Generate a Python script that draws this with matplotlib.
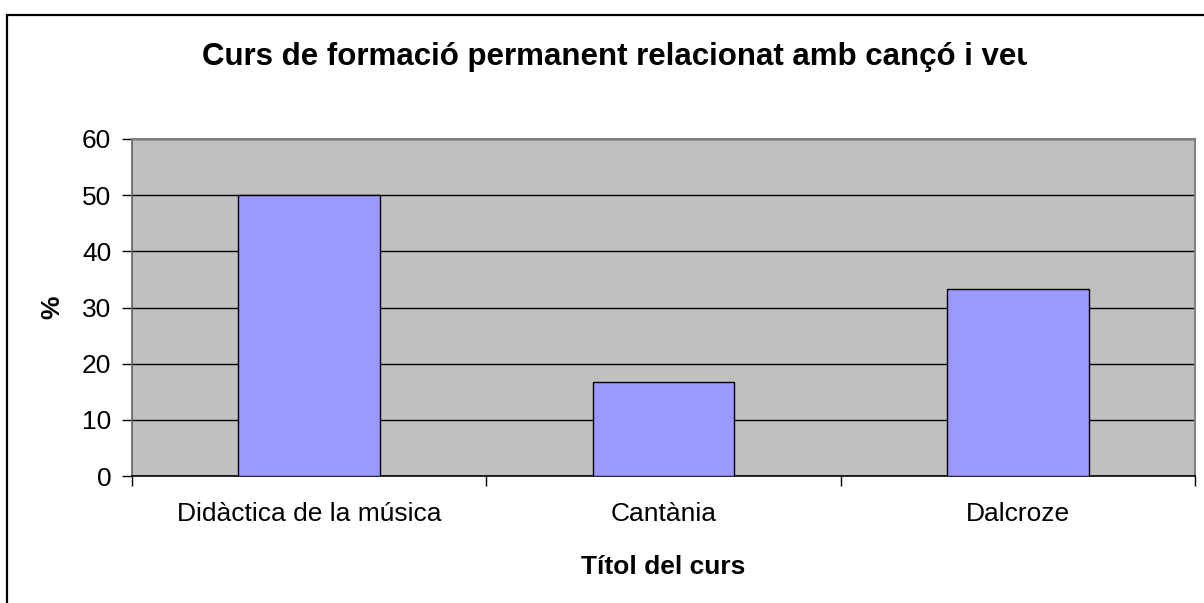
import matplotlib
matplotlib.use("Agg")
import matplotlib.pyplot as plt
from matplotlib.patches import Rectangle
from matplotlib.transforms import Bbox, TransformedBbox
import numpy as np

plt.rcParams['font.family'] = ['Liberation Sans', 'DejaVu Sans']

# data
cursos = ["Didàctica de la música", "Cantània", "Dalcroze"]
percent = [50.0, 16.67, 33.33]
yticks = [0, 10, 20, 30, 40, 50, 60]

titol = "Curs de formació permanent relacionat amb cançó i veu"

fig = plt.figure(figsize=(12.04, 6.03), dpi=100)
fig.patch.set_facecolor("white")

# outer chart border (only left and top visible in the crop)
fig.patches.append(Rectangle((7 / 1204, -0.1), 1.2, 1 - 15 / 603 + 0.1,
                             transform=fig.transFigure, fill=False,
                             edgecolor="black", linewidth=1.6))

ax = fig.add_axes([132 / 1204, 1 - 476 / 603, (1195 - 132) / 1204, (476 - 139) / 603])
ax.set_facecolor("#C0C0C0")

x = np.arange(len(cursos))
ax.bar(x, percent, width=0.4, color="#9999FF", edgecolor="black", linewidth=1, zorder=3)

ax.set_xlim(-0.5, len(cursos) - 0.5)
ax.set_ylim(0, 60)
ax.set_yticks(yticks)
ax.yaxis.grid(True, color="black", linewidth=1, zorder=1)
ax.set_axisbelow(True)

# category boundaries get the tick marks, labels sit at the centres
ax.set_xticks(np.arange(-0.5, len(cursos), 1.0))
ax.set_xticklabels([])
ax.set_xticks(x, minor=True)
ax.set_xticklabels(cursos, minor=True)
ax.tick_params(axis="x", which="major", direction="out", length=7, width=1, color="black")
ax.tick_params(axis="x", which="minor", length=0, pad=19, labelsize=19)
ax.tick_params(axis="y", direction="out", length=7, width=1, color="black", pad=8, labelsize=19)

for s in ["top", "right"]:
    ax.spines[s].set_color("#808080")
    ax.spines[s].set_linewidth(1.5)
ax.spines["left"].set_color("#606060")
ax.spines["left"].set_linewidth(1.2)
ax.spines["bottom"].set_color("black")
ax.spines["bottom"].set_linewidth(1.2)

ax.set_xlabel("Títol del curs", fontsize=19, fontweight="bold")
ax.xaxis.set_label_coords(0.5, -0.234)
ax.set_ylabel("%", fontsize=19, fontweight="bold")
ax.yaxis.set_label_coords(-0.064, 0.5)

# title is cut off at the right edge in the original
t = fig.text(619 / 1204, 1 - 57 / 603, titol, ha="center", va="center",
             fontsize=22.5, fontweight="bold")
t.set_clip_box(TransformedBbox(Bbox([[0, 0], [1027 / 1204, 1]]), fig.transFigure))
t.set_clip_on(True)

fig.savefig("out.png", dpi=100, facecolor="white")
